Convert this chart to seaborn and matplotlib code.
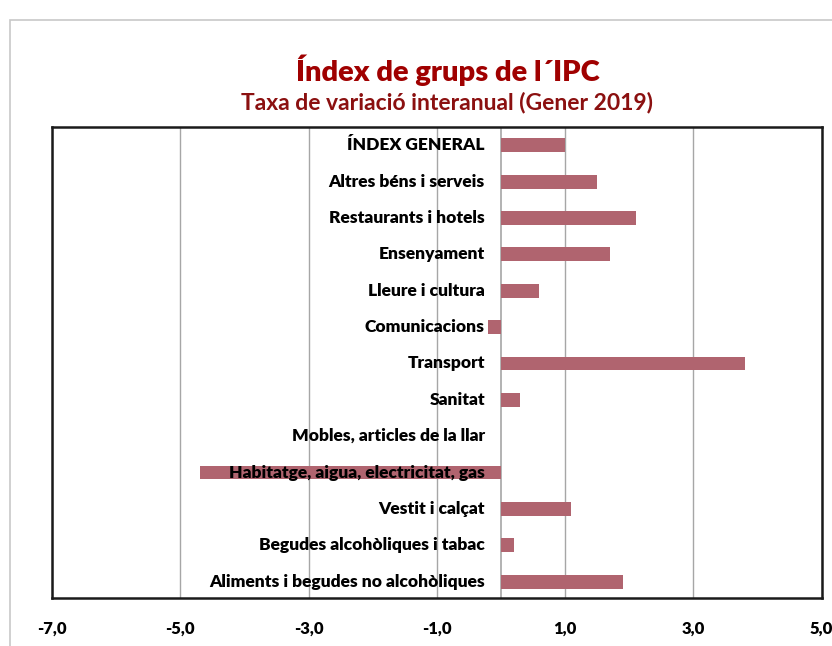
import matplotlib
matplotlib.use("Agg")
import matplotlib.pyplot as plt
import seaborn as sns
import pandas as pd
from matplotlib.patches import Rectangle

# dades (de dalt a baix)
grups = [
    "ÍNDEX GENERAL",
    "Altres béns i serveis",
    "Restaurants i hotels",
    "Ensenyament",
    "Lleure i cultura",
    "Comunicacions",
    "Transport",
    "Sanitat",
    "Mobles, articles de la llar",
    "Habitatge, aigua, electricitat, gas",
    "Vestit i calçat",
    "Begudes alcohòliques i tabac",
    "Aliments i begudes no alcohòliques",
]
variacio = [1.0, 1.5, 2.1, 1.7, 0.6, -0.2, 3.8, 0.3, 0.0, -4.7, 1.1, 0.2, 1.9]
ticks = [-7, -5, -3, -1, 1, 3, 5]

df = pd.DataFrame({"grup": grups, "variacio": variacio})

sns.set_style("white")
plt.rcParams["font.family"] = ["Lato", "DejaVu Sans"]

fig = plt.figure(figsize=(8.32, 6.46), dpi=100)
ax = fig.add_axes([0.0625, 0.0743, 0.925, 0.729])

# marc exterior gris clar
fig.patches.append(Rectangle((10 / 832, -0.1), 1.0, 1.1 - 20 / 646,
                             transform=fig.transFigure, fill=False,
                             edgecolor="#C8C8C8", linewidth=1.2, zorder=0))

sns.barplot(data=df, x="variacio", y="grup", orient="h", color="#B0646F",
            saturation=1, width=0.38, linewidth=0, edgecolor="none",
            ax=ax, zorder=3)

ax.set_xlim(-7, 5)
ax.set_ylim(12.45, -0.5)
ax.set_xticks(ticks)
ax.set_xticklabels([f"{t:.1f}".replace(".", ",") for t in ticks],
                   fontsize=12, fontweight="heavy", color="black")
ax.tick_params(axis="x", length=0, pad=16)
ax.set_yticks([])
ax.set_xlabel("")
ax.set_ylabel("")
ax.grid(True, axis="x", color="#A6A6A6", linewidth=1, zorder=0)
ax.axvline(0, color="#A6A6A6", linewidth=1.2, zorder=1)

for s in ax.spines.values():
    s.set_color("#1A1A1A")
    s.set_linewidth(1.8)

# etiquetes al costat de l'eix zero
for i, g in enumerate(grups):
    ax.text(-0.25, i, g, ha="right", va="center", fontsize=12.5,
            fontweight="heavy", color="black", zorder=4)

fig.text(0.538, 0.892, "Índex de grups de l´IPC", ha="center", va="center",
         fontsize=21, fontweight="heavy", color="#A00000")
fig.text(0.537, 0.841, "Taxa de variació interanual (Gener 2019)", ha="center",
         va="center", fontsize=16.5, fontweight="bold", color="#8B1010")

fig.savefig("out.png", dpi=100)
